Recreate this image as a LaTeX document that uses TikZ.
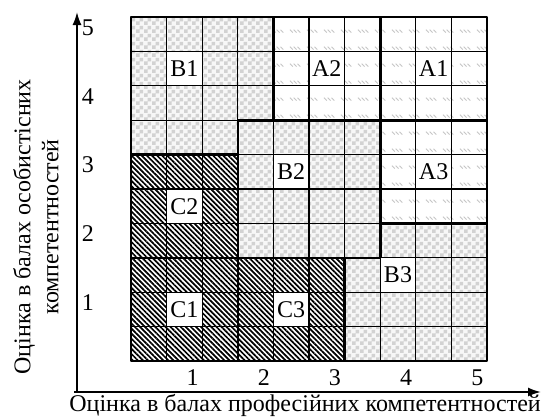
\documentclass[tikz,border=0pt]{standalone}
\usepackage{fontspec}
\setmainfont{Liberation Serif}
\usetikzlibrary{arrows.meta,patterns,patterns.meta,positioning}

\pgfdeclarepatternformonly{checks}{\pgfpointorigin}{\pgfqpoint{8pt}{8pt}}{\pgfqpoint{8pt}{8pt}}{%
  \pgfpathrectangle{\pgfpointorigin}{\pgfqpoint{4pt}{4pt}}%
  \pgfpathrectangle{\pgfqpoint{4pt}{4pt}}{\pgfqpoint{4pt}{4pt}}%
  \pgfusepath{fill}}
\pgfdeclarepatternformonly{strokes}{\pgfpointorigin}{\pgfqpoint{17pt}{17pt}}{\pgfqpoint{17pt}{17pt}}{%
  \pgfsetlinewidth{0.9pt}%
  \pgfpathmoveto{\pgfqpoint{1pt}{14pt}}\pgfpathlineto{\pgfqpoint{4pt}{11pt}}%
  \pgfpathmoveto{\pgfqpoint{5pt}{14pt}}\pgfpathlineto{\pgfqpoint{8pt}{11pt}}%
  \pgfpathmoveto{\pgfqpoint{9pt}{14pt}}\pgfpathlineto{\pgfqpoint{12pt}{11pt}}%
  \pgfusepath{stroke}}

\begin{document}
\begin{tikzpicture}[x=35.6pt, y=34.4pt, line join=round,
    azone/.style={fill=white, postaction={pattern=strokes, pattern color=gray!45}},
    bzone/.style={fill=gray!6, postaction={pattern=checks, pattern color=gray!35}},
    czone/.style={fill=white, postaction={pattern={Lines[angle=-45,distance=3.6pt,line width=1.7pt]}}},
    cell/.style={fill=white, inner sep=0pt, minimum width=35.6pt, minimum height=34.4pt, font=\fontsize{24}{28}\selectfont},
    edge/.style={line width=2.6pt},
    tick/.style={font=\fontsize{24}{28}\selectfont}]
    \useasboundingbox (-131pt,-55pt) rectangle (413pt,361pt);

    % zones
    \fill[bzone] (0,7) rectangle (4,10) (0,6) rectangle (3,7);
    \fill[bzone] (3,3) rectangle (7,7);
    \fill[bzone] (6,0) rectangle (10,3) (7,3) rectangle (10,4);
    \fill[azone] (4,7) rectangle (10,10) (7,4) rectangle (10,7);
    \fill[czone] (0,0) rectangle (6,3) (0,3) rectangle (3,6);

    \node[cell] (b1) at (1.5,8.5) {B1};
    \node[cell] (a2) at (5.5,8.5) {A2};
    \node[cell] (a1) at (8.5,8.5) {A1};
    \node[cell] (b2) at (4.5,5.5) {B2};
    \node[cell] (a3) at (8.5,5.5) {A3};
    \node[cell] (c2) at (1.5,4.5) {C2};
    \node[cell] (b3) at (7.5,2.5) {B3};
    \node[cell] (c1) at (1.5,1.5) {C1};
    \node[cell] (c3) at (4.5,1.5) {C3};

    \draw[line width=1.1pt, xstep=35.6pt, ystep=34.4pt] (0,0) grid (10,10);
    \draw[edge] (0,0) rectangle (10,10);
    \draw[edge] (4,10) -- (4,7);
    \draw[edge] (3,7) -- (10,7);
    \draw[edge] (7,10) -- (7,3);
    \draw[edge] (7,4) -- (10,4);
    \draw[edge] (3,0) -- (3,7);
    \draw[edge] (0,6) -- (3,6);
    \draw[edge] (0,3) -- (7,3);
    \draw[edge] (6,0) -- (6,3);

    % axes
    \coordinate (origin) at (-1.517,-0.901);
    \coordinate (xstart) at (-1.6,-0.901);
    \coordinate (xend) at (11.517,-0.901);
    \coordinate (yend) at (-1.517,10.145);
    \draw[line width=1.8pt, -{Latex[length=13pt,width=9pt]}] (xstart) -- (xend);
    \draw[line width=1.8pt, -{Latex[length=13pt,width=9pt]}] (origin) -- (yend);

    \foreach \k in {1,...,5} {
        \node[tick] (xt\k) at ({2*\k-0.27},-0.49) {\k};
        \node[tick] (yt\k) at (-1.21,{2*\k-0.3}) {\k};
    }

    \node[tick] (xtitle) at (4.89,-1.28) {Оцінка в балах професійних компетентностей};
    \node[tick, rotate=90, align=center] (ytitle) at (-2.67,3.9) {Оцінка в балах особистісних\\компетентностей};
\end{tikzpicture}
\end{document}
